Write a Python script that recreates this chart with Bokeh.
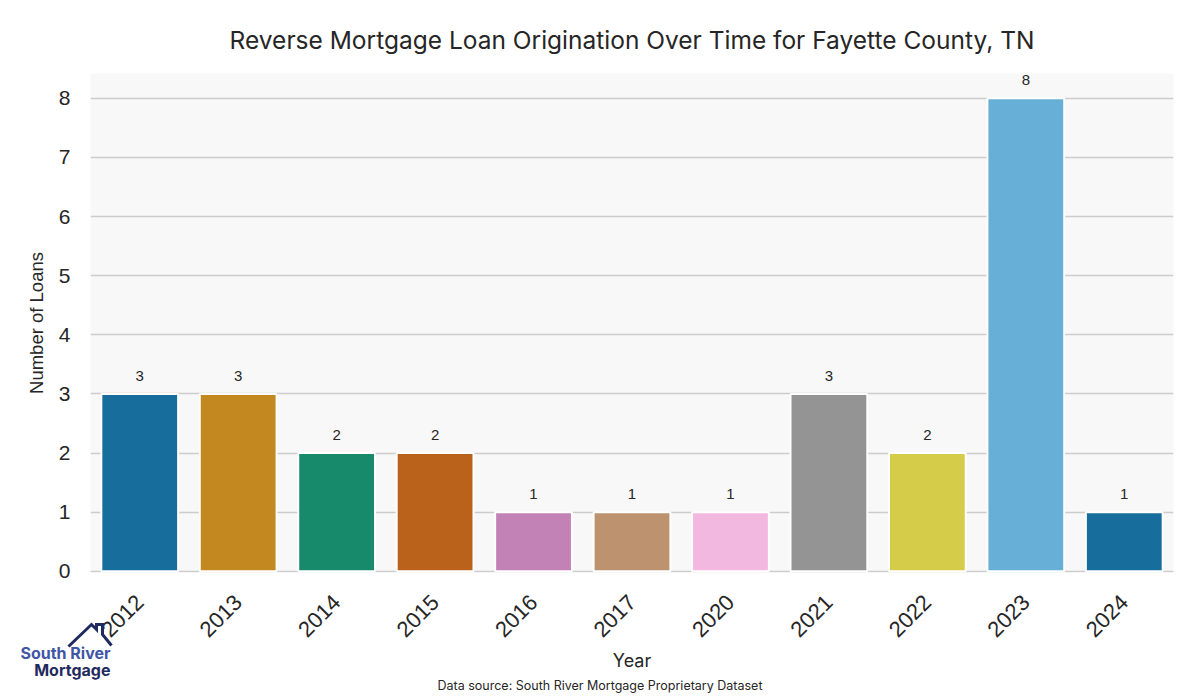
import math
from bokeh.plotting import figure
from bokeh.models import ColumnDataSource, Range1d, FactorRange, Title
from bokeh.core.properties import value
from bokeh.embed import file_html
from bokeh.resources import INLINE

years = ["2012", "2013", "2014", "2015", "2016", "2017", "2020", "2021", "2022", "2023", "2024"]
loans = [3, 3, 2, 2, 1, 1, 1, 3, 2, 8, 1]
colors = ["#176D9C", "#C38820", "#168A6A", "#BA611B", "#C282B6", "#BD926E",
          "#F2B8E0", "#949494", "#D5CD4A", "#68AFD7", "#176D9C"]
y_ticks = [0, 1, 2, 3, 4, 5, 6, 7, 8]

title_text = "Reverse Mortgage Loan Origination Over Time for Fayette County, TN"
source_text = "Data source: South River Mortgage Proprietary Dataset"
x_title = "Year"
y_title = "Number of Loans"
logo_top = "South River"
logo_bottom = "Mortgage"

W, H = 1190, 698
src = ColumnDataSource(dict(year=years, loans=loans, color=colors,
                            label=[str(v) for v in loans]))

p = figure(width=W, height=H, x_range=FactorRange(*years, range_padding=0),
           y_range=Range1d(-0.02, 8.42), output_backend="svg", toolbar_location=None,
           min_border_left=90, min_border_right=W - 1173, min_border_top=73,
           min_border_bottom=H - 572)

p.background_fill_color = "#f8f8f8"
p.border_fill_color = "white"
p.outline_line_color = None

p.vbar(x="year", top="loans", width=0.78, fill_color="color", line_color="white",
       line_width=2, source=src)
p.text(x="year", y="loans", text="label", source=src, text_align="center",
       text_baseline="bottom", y_offset=-13, text_font_size="15px",
       text_font=value("Liberation Sans"), text_color="#262626")

p.xgrid.grid_line_color = None
p.ygrid.grid_line_color = "#cccccc"
p.ygrid.grid_line_width = 1.5
p.yaxis.ticker = y_ticks

for ax in (p.xaxis[0], p.yaxis[0]):
    ax.axis_line_color = None
    ax.major_tick_line_color = None
    ax.minor_tick_line_color = None
    ax.major_label_text_font = "Liberation Sans"
    ax.major_label_text_color = "#262626"

p.yaxis.major_label_text_font_size = "21px"
p.yaxis.major_label_standoff = 14
p.yaxis.axis_label = y_title
p.yaxis.axis_label_text_font = "Liberation Sans"
p.yaxis.axis_label_text_font_size = "18.5px"
p.yaxis.axis_label_text_font_style = "normal"
p.yaxis.axis_label_text_color = "#262626"
p.yaxis.axis_label_standoff = 9

p.xaxis.major_label_text_font_size = "22px"
p.xaxis.major_label_orientation = math.pi / 4
p.xaxis.major_label_standoff = 20
p.xaxis.axis_label = x_title
p.xaxis.axis_label_text_font = "Inter"
p.xaxis.axis_label_text_font_size = "18px"
p.xaxis.axis_label_text_font_style = "normal"
p.xaxis.axis_label_text_color = "#262626"
p.xaxis.axis_label_standoff = 3

p.title.text = title_text
p.title.align = "center"
p.title.text_font = "Inter"
p.title.text_font_size = "24.5px"
p.title.text_font_style = "normal"
p.title.text_color = "#262626"
p.title.standoff = 38

p.add_layout(Title(text=source_text, align="left", offset=347, text_font="Inter",
                   text_font_size="12.5px", text_font_style="normal",
                   text_color="#262626", standoff=4), "below")

# separate transparent canvas for the company logo, laid over the chart's corner
logo = figure(width=W, height=H, x_range=Range1d(0, W), y_range=Range1d(H, 0),
              output_backend="svg", toolbar_location=None, min_border=0,
              min_border_left=0, min_border_right=0, min_border_top=0,
              min_border_bottom=0, x_axis_location=None, y_axis_location=None)
logo.styles = {"position": "absolute", "left": "0px", "top": "0px"}
logo.grid.visible = False
logo.outline_line_color = None
logo.background_fill_color = None
logo.border_fill_color = None
logo.text(x=[110], y=[652], text=[logo_top], text_align="right", text_baseline="middle",
          text_font=value("Inter"), text_font_style="bold", text_font_size="16px",
          text_color="#3f55a6")
logo.text(x=[110], y=[669], text=[logo_bottom], text_align="right", text_baseline="middle",
          text_font=value("Inter"), text_font_style="bold", text_font_size="16px",
          text_color="#1f2b5e")
logo.line(x=[68, 91, 96, 96, 102, 102, 111], y=[646, 624, 629, 624, 624, 634, 645],
          line_color="#1f2b5e", line_width=3, line_join="miter")

open("out.html", "w").write(file_html([p, logo], INLINE))
